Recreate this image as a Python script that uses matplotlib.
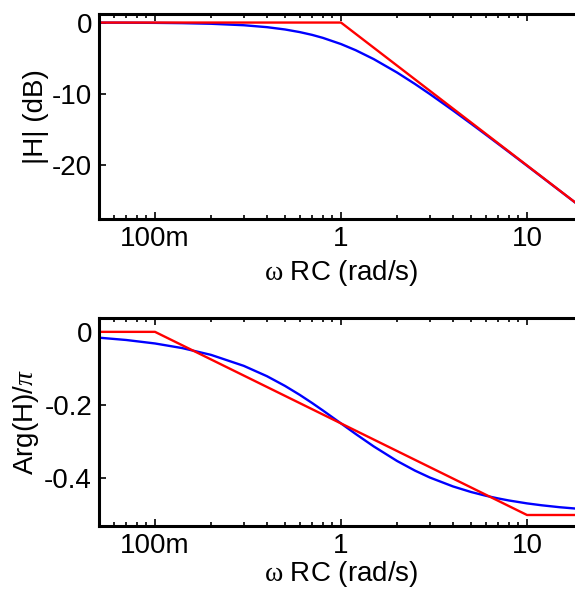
import numpy as np
import matplotlib
matplotlib.use('Agg')
from matplotlib import pyplot as plt
from matplotlib.ticker import LogLocator, NullFormatter, FixedLocator

plt.rcParams['font.family'] = ['Liberation Sans', 'DejaVu Sans']
plt.rcParams['mathtext.fontset'] = 'custom'
plt.rcParams['mathtext.rm'] = 'Liberation Serif'
plt.rcParams['mathtext.it'] = 'Liberation Serif:italic'

# frequency points (omega*RC)
w = [0.05, 0.07, 0.1, 0.14, 0.2, 0.3, 0.4, 0.5, 0.6, 0.7, 0.8, 1.0, 1.2, 1.5,
     2, 2.5, 3, 4, 5, 6, 7, 8, 10, 12, 15, 20]
mag_db = [-0.011, -0.021, -0.043, -0.084, -0.17, -0.374, -0.645, -0.969, -1.335,
          -1.728, -2.148, -3.01, -3.874, -5.119, -6.99, -8.602, -10.0, -12.304,
          -14.15, -15.682, -16.99, -18.129, -20.043, -21.614, -23.541, -26.031]
phase = [-0.0159, -0.0222, -0.0317, -0.0443, -0.0628, -0.0928, -0.1211, -0.1476,
         -0.172, -0.1944, -0.2148, -0.25, -0.2789, -0.3128, -0.3524, -0.3789,
         -0.3976, -0.422, -0.4372, -0.4474, -0.4548, -0.4604, -0.4683, -0.4735,
         -0.4788, -0.4841]

# asymptotes (red)
w_mag_asym = [0.05, 1, 20]
mag_asym = [0, 0, -26.02]
w_ph_asym = [0.05, 0.1, 10, 20]
ph_asym = [0, 0, -0.5, -0.5]

fig = plt.figure(figsize=(5.75, 5.9), dpi=100)
ax1 = fig.add_axes([0.1722, 0.6288, 0.8417, 0.3475])
ax2 = fig.add_axes([0.1722, 0.1085, 0.8417, 0.352])

ax1.plot(w, mag_db, color='#0000ff', lw=1.7)
ax1.plot(w_mag_asym, mag_asym, color='#ff0000', lw=1.7)
ax2.plot(w, phase, color='#0000ff', lw=1.7)
ax2.plot(w_ph_asym, ph_asym, color='#ff0000', lw=1.7)

fs = 20
for ax in (ax1, ax2):
    ax.set_xscale('log')
    ax.set_xlim(0.05, 20)
    ax.xaxis.set_major_locator(FixedLocator([0.1, 1, 10]))
    ax.set_xticklabels(['100m', '1', '10'])
    ax.xaxis.set_minor_locator(LogLocator(base=10, subs=np.arange(2, 10)))
    ax.xaxis.set_minor_formatter(NullFormatter())
    for s in ax.spines.values():
        s.set_linewidth(2.2)
    ax.tick_params(which='both', direction='in', top=True, right=True,
                   labelsize=fs, width=1.2, pad=5)
    ax.tick_params(which='major', length=5)
    ax.tick_params(which='minor', length=3)

ax1.set_xlabel(r'$\mathrm{\omega}$ RC (rad/s)', fontsize=fs, labelpad=4)
ax2.set_xlabel(r'$\mathrm{\omega}$ RC (rad/s)', fontsize=fs, labelpad=0)

ax1.set_ylim(-27.5, 1.2)
ax1.set_yticks([0, -10, -20])
ax1.set_yticklabels(['0', '-10', '-20'])
ax1.set_ylabel('|H| (dB)', fontsize=fs, labelpad=2)

ax2.set_ylim(-0.53, 0.037)
ax2.set_yticks([0, -0.2, -0.4])
ax2.set_yticklabels(['0', '-0.2', '-0.4'])
ax2.set_ylabel(r'Arg(H)/$\pi$', fontsize=fs, labelpad=2)

plt.savefig('out.png', dpi=100)
